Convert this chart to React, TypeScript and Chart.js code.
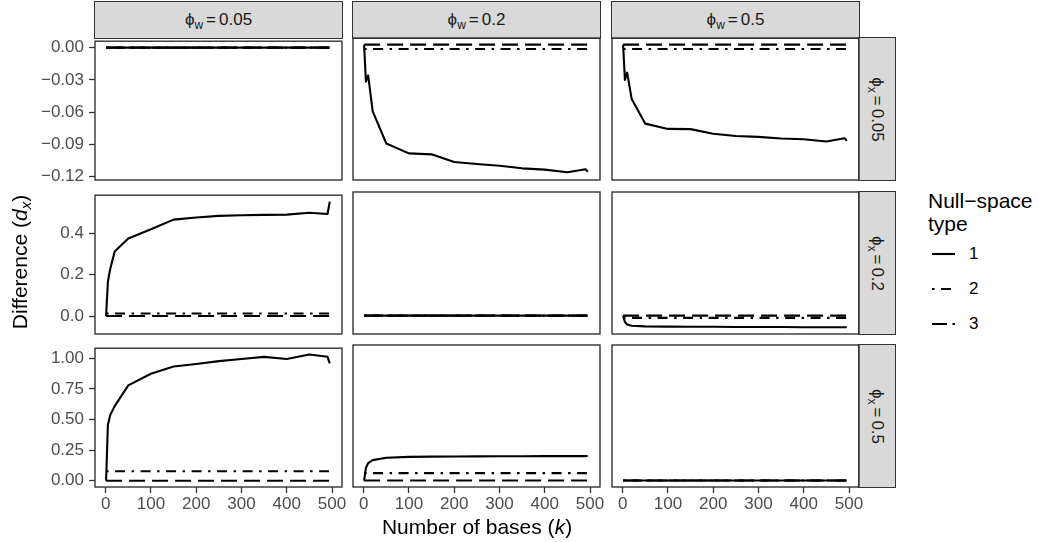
import React, { useEffect, useRef } from "react";
import { Chart, registerables } from "chart.js";

Chart.register(...registerables);

// ---------------- data ----------------
const kValues = [1, 5, 10, 20, 50, 100, 150, 200, 250, 300, 350, 400, 450, 490, 495];
const xTickValues = [0, 100, 200, 300, 400, 500];
const xTickLabels = ["0", "100", "200", "300", "400", "500"];
const phiWValues = ["0.05", "0.2", "0.5"];
const phiXValues = ["0.05", "0.2", "0.5"];
const nullSpaceTypes = ["1", "2", "3"];

// phi_x = 0.05
const x005_w005_t1 = [0, 0, 0, 0, 0, 0, 0, 0, 0, 0, 0, 0, 0, 0, 0];
const x005_w005_t2 = [0, 0, 0, 0, 0, 0, 0, 0, 0, 0, 0, 0, 0, 0, 0];
const x005_w005_t3 = [0, 0, 0, 0, 0, 0, 0, 0, 0, 0, 0, 0, 0, 0, 0];
const x005_w02_t1 = [0, -0.0336, -0.028, -0.0606, -0.0898, -0.0988, -0.0997, -0.1067, -0.1085, -0.11, -0.1124, -0.1136, -0.116, -0.1133, -0.1155];
const x005_w02_t2 = [-0.004, -0.004, -0.004, -0.004, -0.004, -0.004, -0.004, -0.004, -0.004, -0.004, -0.004, -0.004, -0.004, -0.004, -0.004];
const x005_w02_t3 = [0, 0, 0, 0, 0, 0, 0, 0, 0, 0, 0, 0, 0, 0, 0];
const x005_w05_t1 = [0, -0.032, -0.0255, -0.0495, -0.0718, -0.0766, -0.0768, -0.081, -0.083, -0.0838, -0.0853, -0.086, -0.088, -0.085, -0.0875];
const x005_w05_t2 = [-0.004, -0.004, -0.004, -0.004, -0.004, -0.004, -0.004, -0.004, -0.004, -0.004, -0.004, -0.004, -0.004, -0.004, -0.004];
const x005_w05_t3 = [0, 0, 0, 0, 0, 0, 0, 0, 0, 0, 0, 0, 0, 0, 0];

// phi_x = 0.2
const x02_w005_t1 = [0, 0.166, 0.226, 0.312, 0.375, 0.419, 0.466, 0.476, 0.484, 0.487, 0.489, 0.49, 0.499, 0.493, 0.553];
const x02_w005_t2 = [0.012, 0.012, 0.012, 0.012, 0.012, 0.012, 0.012, 0.012, 0.012, 0.012, 0.012, 0.012, 0.012, 0.012, 0.012];
const x02_w005_t3 = [0, 0, 0, 0, 0, 0, 0, 0, 0, 0, 0, 0, 0, 0, 0];
const x02_w02_t1 = [0, 0, 0, 0, 0, 0, 0, 0, 0, 0, 0, 0, 0, 0, 0];
const x02_w02_t2 = [0, 0, 0, 0, 0, 0, 0, 0, 0, 0, 0, 0, 0, 0, 0];
const x02_w02_t3 = [0, 0, 0, 0, 0, 0, 0, 0, 0, 0, 0, 0, 0, 0, 0];
const x02_w05_t1 = [0, -0.03, -0.042, -0.048, -0.051, -0.052, -0.053, -0.053, -0.054, -0.054, -0.054, -0.055, -0.055, -0.055, -0.055];
const x02_w05_t2 = [-0.011, -0.011, -0.011, -0.011, -0.011, -0.011, -0.011, -0.011, -0.011, -0.011, -0.011, -0.011, -0.011, -0.011, -0.011];
const x02_w05_t3 = [0, 0, 0, 0, 0, 0, 0, 0, 0, 0, 0, 0, 0, 0, 0];

// phi_x = 0.5
const x05_w005_t1 = [0, 0.457, 0.536, 0.61, 0.78, 0.875, 0.934, 0.955, 0.978, 0.995, 1.013, 0.995, 1.032, 1.013, 0.96];
const x05_w005_t2 = [0.077, 0.077, 0.077, 0.077, 0.077, 0.077, 0.077, 0.077, 0.077, 0.077, 0.077, 0.077, 0.077, 0.077, 0.077];
const x05_w005_t3 = [0, 0, 0, 0, 0, 0, 0, 0, 0, 0, 0, 0, 0, 0, 0];
const x05_w02_t1 = [0, 0.1, 0.14, 0.163, 0.182, 0.189, 0.191, 0.192, 0.193, 0.194, 0.194, 0.195, 0.195, 0.195, 0.196];
const x05_w02_t2 = [0.059, 0.059, 0.059, 0.059, 0.059, 0.059, 0.059, 0.059, 0.059, 0.059, 0.059, 0.059, 0.059, 0.059, 0.059];
const x05_w02_t3 = [0, 0, 0, 0, 0, 0, 0, 0, 0, 0, 0, 0, 0, 0, 0];
const x05_w05_t1 = [0, 0, 0, 0, 0, 0, 0, 0, 0, 0, 0, 0, 0, 0, 0];
const x05_w05_t2 = [0, 0, 0, 0, 0, 0, 0, 0, 0, 0, 0, 0, 0, 0, 0];
const x05_w05_t3 = [0, 0, 0, 0, 0, 0, 0, 0, 0, 0, 0, 0, 0, 0, 0];

// y-axis ticks per row
const yTicksX005 = [-0.12, -0.09, -0.06, -0.03, 0];
const yLabelsX005 = ["\u22120.12", "\u22120.09", "\u22120.06", "\u22120.03", "0.00"];
const yTicksX02 = [0, 0.2, 0.4];
const yLabelsX02 = ["0.0", "0.2", "0.4"];
const yTicksX05 = [0, 0.25, 0.5, 0.75, 1];
const yLabelsX05 = ["0.00", "0.25", "0.50", "0.75", "1.00"];

// ---------------- assembly ----------------
const panelSeries = [
  [
    [x005_w005_t1, x005_w005_t2, x005_w005_t3],
    [x005_w02_t1, x005_w02_t2, x005_w02_t3],
    [x005_w05_t1, x005_w05_t2, x005_w05_t3],
  ],
  [
    [x02_w005_t1, x02_w005_t2, x02_w005_t3],
    [x02_w02_t1, x02_w02_t2, x02_w02_t3],
    [x02_w05_t1, x02_w05_t2, x02_w05_t3],
  ],
  [
    [x05_w005_t1, x05_w005_t2, x05_w005_t3],
    [x05_w02_t1, x05_w02_t2, x05_w02_t3],
    [x05_w05_t1, x05_w05_t2, x05_w05_t3],
  ],
];
const rowYTicks = [yTicksX005, yTicksX02, yTicksX05];
const rowYLabels = [yLabelsX005, yLabelsX02, yLabelsX05];
const rowYRange = [
  [-0.123, 0.006],
  [-0.087, 0.584],
  [-0.0516, 1.0836],
];
const X_MIN = -23.5;
const X_MAX = 522;

// layout
const PANEL_LEFTS = [95, 353, 612];
const PANEL_TOPS = [38, 192, 345];
const PW = 247;
const PH = 142;
const STRIP = 37;
const FONT = '"Liberation Sans", Arial, Helvetica, sans-serif';
const DASHES: number[][] = [[], [2.5, 6.5, 10, 6.5], [16, 7]];
const LEGEND_DASHES: number[][] = [[], [2.5, 6.5, 10, 6.5], [15, 5.5]];
const LINE_W = 2.1;

const borderPlugin = {
  id: "panelBorder",
  afterDraw(chart: any) {
    const { ctx, chartArea } = chart;
    ctx.save();
    ctx.strokeStyle = "#333333";
    ctx.lineWidth = 1.4;
    ctx.strokeRect(chartArea.left, chartArea.top, chartArea.right - chartArea.left, chartArea.bottom - chartArea.top);
    ctx.restore();
  },
};

function Panel({ row, col }: { row: number; col: number }) {
  const ref = useRef<HTMLCanvasElement>(null);
  const L = 90;
  const T = 12;
  const R = 20;
  const B = 40;
  const showY = col === 0;
  const showX = row === 2;
  useEffect(() => {
    if (!ref.current) return;
    const series = panelSeries[row][col];
    const yTicks = rowYTicks[row];
    const yLabels = rowYLabels[row];
    const chart = new Chart(ref.current, {
      type: "line",
      data: {
        datasets: series.map((vals, i) => ({
          label: nullSpaceTypes[i],
          data: kValues.map((k, j) => ({ x: k, y: vals[j] })),
          borderColor: "#000000",
          borderWidth: LINE_W,
          borderDash: DASHES[i],
          borderCapStyle: "butt",
          borderJoinStyle: "round",
          pointRadius: 0,
          fill: false,
          tension: 0,
        })),
      },
      options: {
        animation: false,
        responsive: false,
        maintainAspectRatio: false,
        events: [],
        layout: { padding: { left: showY ? 0 : L, top: T, right: R, bottom: showX ? 0 : B } },
        plugins: { legend: { display: false }, tooltip: { enabled: false } },
        scales: {
          x: {
            type: "linear",
            min: X_MIN,
            max: X_MAX,
            display: showX,
            afterBuildTicks: (s: any) => {
              s.ticks = xTickValues.map((v) => ({ value: v }));
            },
            afterFit: (s: any) => {
              s.height = showX ? B : 0;
            },
            ticks: {
              autoSkip: false,
              maxRotation: 0,
              color: "#4D4D4D",
              font: { family: FONT, size: 17 },
              padding: 1,
              callback: (_v: any, i: number) => xTickLabels[i],
            },
            grid: { display: true, drawOnChartArea: false, drawTicks: true, tickLength: 6, tickColor: "#333333", tickWidth: 1.3 },
            border: { display: false },
          },
          y: {
            type: "linear",
            min: rowYRange[row][0],
            max: rowYRange[row][1],
            display: showY,
            afterBuildTicks: (s: any) => {
              s.ticks = yTicks.map((v) => ({ value: v }));
            },
            afterFit: (s: any) => {
              s.width = showY ? L : 0;
            },
            ticks: {
              autoSkip: false,
              color: "#4D4D4D",
              font: { family: FONT, size: 17 },
              padding: 5,
              callback: (_v: any, i: number) => yLabels[i],
            },
            grid: { display: true, drawOnChartArea: false, drawTicks: true, tickLength: 6, tickColor: "#333333", tickWidth: 1.3 },
            border: { display: false },
          },
        },
      } as any,
      plugins: [borderPlugin],
    });
    return () => chart.destroy();
  }, [row, col]);
  const w = L + PW + R;
  const h = T + PH + B;
  return (
    <canvas
      ref={ref}
      width={w}
      height={h}
      style={{ position: "absolute", left: PANEL_LEFTS[col] - L, top: PANEL_TOPS[row] - T, width: w, height: h }}
    />
  );
}

function PhiLabel({ sub, value }: { sub: string; value: string }) {
  return (
    <span>
      {"\u03D5"}
      <span style={{ fontSize: 12, position: "relative", top: 4 }}>{sub}</span>
      <span style={{ margin: "0 3px" }}>=</span>
      {value}
    </span>
  );
}

function LegendKey({ dash }: { dash: number[] }) {
  return (
    <svg width={23} height={6} style={{ display: "block" }}>
      <line
        x1={0}
        y1={3}
        x2={23}
        y2={3}
        stroke="#000"
        strokeWidth={LINE_W}
        strokeDasharray={dash.length ? dash.join(" ") : undefined}
      />
    </svg>
  );
}

export default function App() {
  const legendYs = [254, 289, 324];
  return (
    <div
      style={{
        position: "absolute",
        left: 0,
        top: 0,
        width: 1039,
        height: 542,
        background: "#ffffff",
        fontFamily: FONT,
        overflow: "hidden",
      }}
    >
      {/* top strips */}
      {phiWValues.map((v, c) => (
        <div
          key={"ts" + c}
          style={{
            position: "absolute",
            left: PANEL_LEFTS[c] - 0.7,
            top: 1,
            width: PW + 1.4,
            height: PANEL_TOPS[0] - 1 + 0.7,
            boxSizing: "border-box",
            background: "#D9D9D9",
            border: "1.4px solid #333333",
            color: "#1A1A1A",
            fontSize: 17,
            display: "flex",
            alignItems: "center",
            justifyContent: "center",
          }}
        >
          <PhiLabel sub="w" value={v} />
        </div>
      ))}
      {/* right strips */}
      {phiXValues.map((v, r) => (
        <div
          key={"rs" + r}
          style={{
            position: "absolute",
            left: PANEL_LEFTS[2] + PW - 0.7,
            top: PANEL_TOPS[r] - 0.7,
            width: STRIP + 0.7,
            height: PH + 1.4,
            boxSizing: "border-box",
            background: "#D9D9D9",
            border: "1.4px solid #333333",
          }}
        >
          <div
            style={{
              position: "absolute",
              left: (STRIP - PH) / 2 - 1,
              top: (PH - STRIP) / 2,
              width: PH,
              height: STRIP,
              lineHeight: STRIP + "px",
              textAlign: "center",
              color: "#1A1A1A",
              fontSize: 17,
              transform: "rotate(90deg)",
              whiteSpace: "nowrap",
            }}
          >
            <PhiLabel sub="x" value={v} />
          </div>
        </div>
      ))}
      {/* panels */}
      {[0, 1, 2].map((r) => [0, 1, 2].map((c) => <Panel key={r + "-" + c} row={r} col={c} />))}
      {/* axis titles */}
      <div
        style={{
          position: "absolute",
          left: 477 - 200,
          top: 515,
          width: 400,
          height: 24,
          lineHeight: "24px",
          textAlign: "center",
          fontSize: 21,
          color: "#000",
        }}
      >
        Number of bases (<i>k</i>)
      </div>
      <div
        style={{
          position: "absolute",
          left: 20 - 150,
          top: 262 - 12,
          width: 300,
          height: 24,
          lineHeight: "24px",
          textAlign: "center",
          fontSize: 21,
          color: "#000",
          transform: "rotate(-90deg)",
          whiteSpace: "nowrap",
        }}
      >
        Difference (<i>d<span style={{ fontSize: 15, position: "relative", top: 4 }}>x</span></i>)
      </div>
      {/* legend */}
      <div
        style={{
          position: "absolute",
          left: 928,
          top: 189,
          fontSize: 21,
          lineHeight: "23px",
          color: "#000",
          whiteSpace: "nowrap",
        }}
      >
        Null{"\u2212"}space
        <br />
        type
      </div>
      {nullSpaceTypes.map((t, i) => (
        <div key={"lg" + t} style={{ position: "absolute", left: 931.5, top: legendYs[i] - 3 }}>
          <LegendKey dash={LEGEND_DASHES[i]} />
        </div>
      ))}
      {nullSpaceTypes.map((t, i) => (
        <div
          key={"lt" + t}
          style={{
            position: "absolute",
            left: 969,
            top: legendYs[i] - 11,
            height: 22,
            lineHeight: "22px",
            fontSize: 17,
            color: "#000",
          }}
        >
          {t}
        </div>
      ))}
    </div>
  );
}
